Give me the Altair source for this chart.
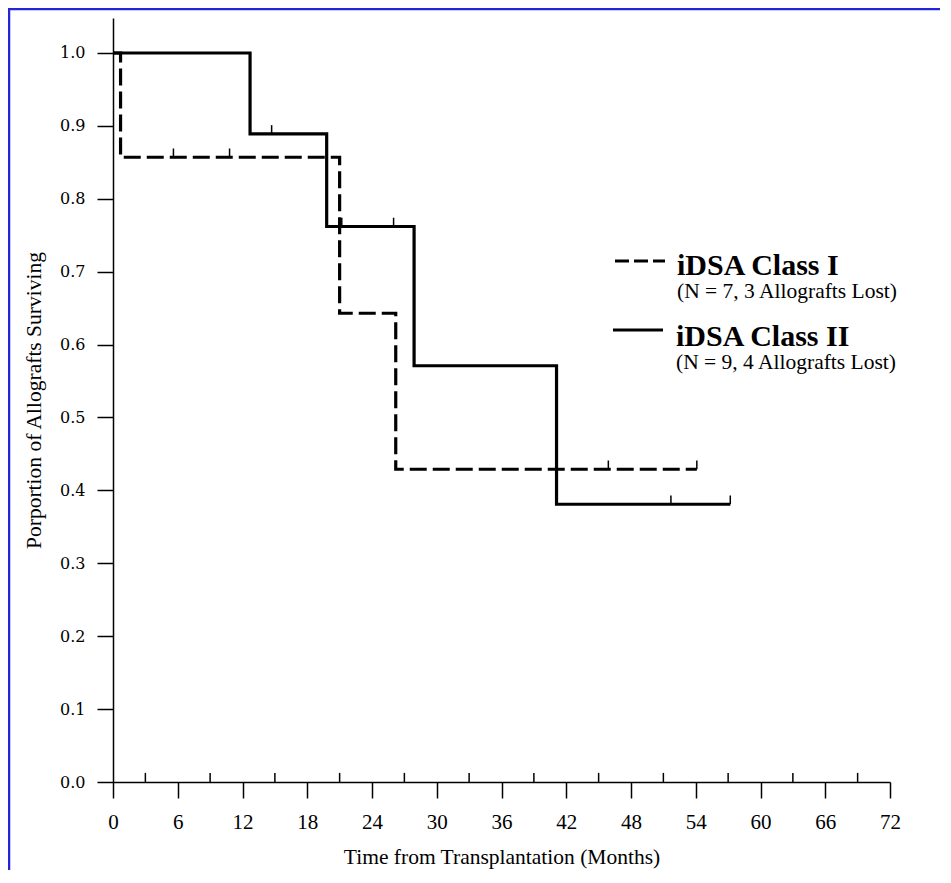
import altair as alt
import pandas as pd

# Kaplan-Meier step data
time_class1 = [0.0, 0.7, 21.0, 26.2, 54.1]
surv_class1 = [1.0, 0.857, 0.643, 0.429, 0.429]
time_class2 = [0.0, 12.7, 19.8, 27.9, 41.1, 57.2]
surv_class2 = [1.0, 0.889, 0.762, 0.571, 0.381, 0.381]

# censoring marks
cens_time_class1 = [5.6, 10.8, 45.9, 54.1]
cens_surv_class1 = [0.857, 0.857, 0.429, 0.429]
cens_time_class2 = [14.7, 21.2, 26.0, 51.7, 57.2]
cens_surv_class2 = [0.889, 0.762, 0.762, 0.381, 0.381]

x_ticks = [0, 6, 12, 18, 24, 30, 36, 42, 48, 54, 60, 66, 72]
x_minor = [3, 9, 15, 21, 27, 33, 39, 45, 51, 57, 63, 69]
y_ticks = [0.0, 0.1, 0.2, 0.3, 0.4, 0.5, 0.6, 0.7, 0.8, 0.9, 1.0]

legend_titles = ["iDSA Class I", "iDSA Class II"]
legend_subs = ["(N = 7, 3 Allografts Lost)", "(N = 9, 4 Allografts Lost)"]

x_title = "Time from Transplantation (Months)"
y_title = "Porportion of Allografts Surviving"

df1 = pd.DataFrame({"t": time_class1, "s": surv_class1})
df2 = pd.DataFrame({"t": time_class2, "s": surv_class2})
c1 = pd.DataFrame({"t": cens_time_class1, "s": cens_surv_class1})
c2 = pd.DataFrame({"t": cens_time_class2, "s": cens_surv_class2})
minor = pd.DataFrame({"t": x_minor, "s": [0.0] * len(x_minor)})
one = pd.DataFrame({"a": [0]})

xscale = alt.Scale(domain=[0, 72], nice=False, zero=False)
yscale = alt.Scale(domain=[0, 1.048], nice=False, zero=False)

x_axis = alt.Axis(
    values=x_ticks, format="d", grid=False, tickSize=16, tickWidth=1.5,
    tickColor="black", domainColor="black", domainWidth=1.5,
    labelFont="Liberation Serif", labelFontSize=21, labelColor="black",
    labelPadding=13, labelFlush=False,
    titleFont="Liberation Serif", titleFontSize=21.5, titleFontWeight="normal",
    titleColor="black", titlePadding=14,
)
y_axis = alt.Axis(
    values=y_ticks, format=".1f", grid=False, tickSize=16, tickWidth=1.5,
    tickColor="black", domainColor="black", domainWidth=1.5,
    labelFont="DejaVu Serif", labelFontSize=16, labelColor="black",
    labelPadding=12, labelFlush=False,
    titleFont="Liberation Serif", titleFontSize=21.5, titleFontWeight="normal",
    titleColor="black", titlePadding=14,
)

X = alt.X("t:Q", scale=xscale, axis=x_axis, title=x_title)
Y = alt.Y("s:Q", scale=yscale, axis=y_axis, title=y_title)

line2 = alt.Chart(df2).mark_line(
    interpolate="step-after", color="black", strokeWidth=3.2, strokeJoin="miter"
).encode(x=X, y=Y)

line1 = alt.Chart(df1).mark_line(
    interpolate="step-after", color="black", strokeWidth=3.2,
    strokeDash=[17, 6], strokeJoin="miter"
).encode(x=X, y=Y)

def censor(df):
    return alt.Chart(df).transform_calculate(top="datum.s + 0.012").mark_rule(
        color="black", strokeWidth=1.5
    ).encode(x=X, y=Y, y2="top:Q")

minor_ticks = alt.Chart(minor).transform_calculate(top="datum.s + 0.0125").mark_rule(
    color="black", strokeWidth=1.5
).encode(x=X, y=Y, y2="top:Q")

leg_line1 = alt.Chart(one).mark_rule(color="black", strokeWidth=3.2, strokeDash=[14, 5]).encode(
    x=alt.value(502), x2=alt.value(552), y=alt.value(243)
)
leg_line2 = alt.Chart(one).mark_rule(color="black", strokeWidth=3.2).encode(
    x=alt.value(500), x2=alt.value(550), y=alt.value(312)
)

def txt(s, x, y, size, weight="normal"):
    return alt.Chart(one).mark_text(
        align="left", baseline="alphabetic", font="Liberation Serif",
        fontSize=size, fontWeight=weight, color="black"
    ).encode(x=alt.value(x), y=alt.value(y), text=alt.value(s))

leg_t1 = txt(legend_titles[0], 564, 257, 30, "bold")
leg_s1 = txt(legend_subs[0], 564, 280, 21.5)
leg_t2 = txt(legend_titles[1], 563, 328, 30, "bold")
leg_s2 = txt(legend_subs[1], 563, 351, 21.5)

frame_left = alt.Chart(one).mark_rule(color="#2424dd", strokeWidth=2.5).encode(
    x=alt.value(-104), y=alt.value(-10), y2=alt.value(852)
)
frame_top = alt.Chart(one).mark_rule(color="#2424dd", strokeWidth=2.5).encode(
    x=alt.value(-105), x2=alt.value(830), y=alt.value(-9)
)

chart = alt.layer(
    line2, line1, censor(c1), censor(c2), minor_ticks,
    leg_line1, leg_line2, leg_t1, leg_s1, leg_t2, leg_s2,
    frame_left, frame_top,
).properties(
    width=777, height=764,
    autosize=alt.AutoSizeParams(type="none"),
    padding={"left": 105, "top": 10, "right": 50, "bottom": 88},
    background="white",
).configure_view(stroke=None)

chart.save("out.html", embed_options={"renderer": "svg", "actions": False})
